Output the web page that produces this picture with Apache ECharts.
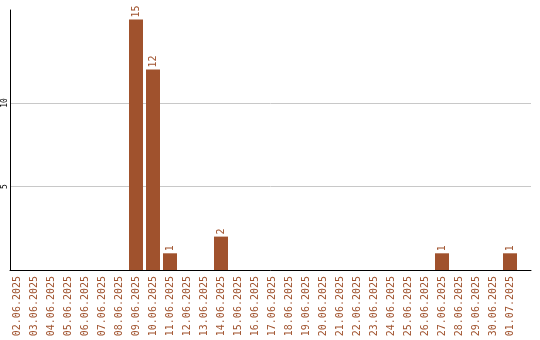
<!DOCTYPE html>
<html>
<head>
<meta charset="utf-8">
<style>html,body{margin:0;padding:0;background:#fff}#c{width:540px;height:340px}</style>
<script src="https://cdn.jsdelivr.net/npm/echarts@6/dist/echarts.min.js"></script>
</head>
<body>
<div id="c"></div>
<script>
const categories = ["02.06.2025","03.06.2025","04.06.2025","05.06.2025","06.06.2025","07.06.2025","08.06.2025","09.06.2025","10.06.2025","11.06.2025","12.06.2025","13.06.2025","14.06.2025","15.06.2025","16.06.2025","17.06.2025","18.06.2025","19.06.2025","20.06.2025","21.06.2025","22.06.2025","23.06.2025","24.06.2025","25.06.2025","26.06.2025","27.06.2025","28.06.2025","29.06.2025","30.06.2025","01.07.2025"];
const values = [0,0,0,0,0,0,0,15,12,1,0,0,2,0,0,0,0,0,0,0,0,0,0,0,0,1,0,0,0,1];
const yTicks = [5, 10];
const color = '#a0522d';
const mono = 'DejaVu Sans Mono';
const chart = echarts.init(document.getElementById('c'));
chart.setOption({
  animation: false,
  grid: [
    {left: 10, right: 9, top: 10, bottom: 70},
    {left: 8.5, width: 510, top: 10, bottom: 70}
  ],
  xAxis: [
    {gridIndex: 0, type: 'value', min: 0, max: 1, axisLine: {show: true, lineStyle: {color: '#000', width: 1}}, axisTick: {show: false}, axisLabel: {show: false}, splitLine: {show: false}},
    {gridIndex: 1, type: 'category', data: categories, axisLine: {show: false}, axisTick: {show: false}, splitLine: {show: false},
     axisLabel: {rotate: 90, interval: 0, color: color, fontFamily: mono, fontSize: 10, margin: 6}}
  ],
  yAxis: [
    {gridIndex: 0, type: 'value', min: 0, max: 15.57, interval: 5,
     axisLine: {show: true, lineStyle: {color: '#000', width: 1}}, axisTick: {show: false},
     axisLabel: {rotate: 90, fontFamily: mono, fontSize: 8, color: '#000', margin: 1,
       formatter: v => yTicks.includes(v) ? String(v) : ''},
     splitLine: {show: true, lineStyle: {color: ['#c8c8c8','#c8c8c8','#c8c8c8','rgba(0,0,0,0)','rgba(0,0,0,0)']}}},
    {gridIndex: 1, type: 'value', min: 0, max: 15.57, show: false, splitLine: {show: false}}
  ],
  series: [{
    type: 'bar', xAxisIndex: 1, yAxisIndex: 1,
    data: values.map(v => v === 0 ? null : v),
    barWidth: 14,
    itemStyle: {color: color},
    label: {show: true, position: 'top', rotate: 90, align: 'left', verticalAlign: 'middle', distance: 2,
      color: color, fontFamily: mono, fontSize: 10}
  }]
});
</script>
</body>
</html>
